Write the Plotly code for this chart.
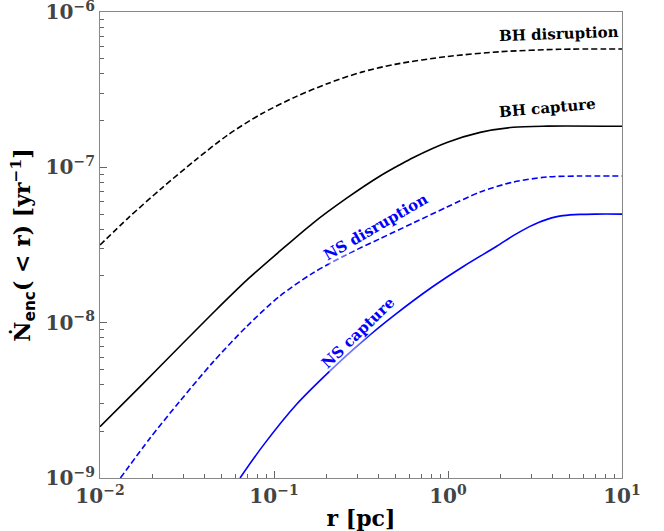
import math
import plotly.graph_objects as go

# BH disruption (black dashed)
r_bh_dis = [0.01, 0.01455, 0.0226, 0.0352, 0.0545, 0.0849, 0.132, 0.204, 0.319, 0.495, 0.986, 1.99, 4.4, 10.0]
n_bh_dis = [3.16e-8, 4.73e-8, 7.33e-8, 1.109e-7, 1.622e-7, 2.213e-7, 2.831e-7, 3.467e-7, 4.102e-7, 4.603e-7, 5.164e-7, 5.546e-7, 5.754e-7, 5.781e-7]

# BH capture (black solid)
r_bh_cap = [0.01, 0.0170, 0.0288, 0.0458, 0.0700, 0.108, 0.167, 0.263, 0.407, 0.530, 0.629, 0.986, 1.53, 2.37, 3.71, 10.0]
n_bh_cap = [2.138e-9, 3.873e-9, 7.047e-9, 1.189e-8, 1.884e-8, 2.884e-8, 4.365e-8, 6.353e-8, 8.79e-8, 1.04e-7, 1.153e-7, 1.445e-7, 1.679e-7, 1.811e-7, 1.841e-7, 1.837e-7]

# NS disruption (blue dashed)
r_ns_dis = [0.0131, 0.0194, 0.0288, 0.0446, 0.0700, 0.108, 0.167, 0.263, 0.407, 0.629, 0.986, 1.53, 2.37, 3.71, 5.74, 10.0]
n_ns_dis = [1.0e-9, 1.807e-9, 3.126e-9, 5.572e-9, 9.506e-9, 1.483e-8, 2.084e-8, 2.754e-8, 3.475e-8, 4.375e-8, 5.546e-8, 6.934e-8, 8.035e-8, 8.67e-8, 8.79e-8, 8.79e-8]

# NS capture (blue solid)
r_ns_cap = [0.0638, 0.0867, 0.1349, 0.2099, 0.3258, 0.507, 0.7889, 1.2246, 1.905, 2.371, 2.958, 3.311, 3.707, 4.169, 4.571, 5.741, 7.08, 10.0]
n_ns_cap = [1.0e-9, 1.622e-9, 2.985e-9, 4.898e-9, 7.674e-9, 1.148e-8, 1.66e-8, 2.301e-8, 3.105e-8, 3.631e-8, 4.169e-8, 4.416e-8, 4.624e-8, 4.797e-8, 4.887e-8, 4.977e-8, 5.0e-8, 5.0e-8]

x_tick_vals = [1e-2, 1e-1, 1e0, 1e1]
x_tick_text = ["10<sup>−2</sup>", "10<sup>−1</sup>", "10<sup>0</sup>", "10<sup>1</sup>"]
y_tick_vals = [1e-9, 1e-8, 1e-7, 1e-6]
y_tick_text = ["10<sup>−9</sup>", "10<sup>−8</sup>", "10<sup>−7</sup>", "10<sup>−6</sup>"]

labels = ["BH disruption", "BH capture", "NS disruption", "NS capture"]
label_x = [4.35, 3.71, 0.385, 0.304]
label_y = [7.21e-7, 2.41e-7, 4.13e-8, 8.57e-9]
label_angle = [-2, -5, -30, -44]
label_color = ["black", "black", "#0000ff", "#0000ff"]

serif = "DejaVu Serif"

fig = go.Figure()
fig.add_trace(go.Scatter(x=r_bh_dis, y=n_bh_dis, mode="lines", line=dict(color="black", width=1.6, dash="6px,3px", shape="spline", smoothing=0.8)))
fig.add_trace(go.Scatter(x=r_bh_cap, y=n_bh_cap, mode="lines", line=dict(color="black", width=1.6, shape="spline", smoothing=0.8)))
fig.add_trace(go.Scatter(x=r_ns_dis, y=n_ns_dis, mode="lines", line=dict(color="#0000ff", width=1.6, dash="6px,3px", shape="spline", smoothing=0.8)))
fig.add_trace(go.Scatter(x=r_ns_cap, y=n_ns_cap, mode="lines", line=dict(color="#0000ff", width=1.6, shape="spline", smoothing=0.8)))

for t, xx, yy, a, c in zip(labels, label_x, label_y, label_angle, label_color):
    fig.add_annotation(x=math.log10(xx), y=math.log10(yy), xref="x", yref="y", text="<b>" + t + "</b>", showarrow=False,
                       textangle=a, font=dict(family=serif, size=15, color=c),
                       bgcolor="rgba(255,255,255,0.45)", borderpad=0,
                       xanchor="center", yanchor="middle")

def minor_vals(lo, hi):
    out = []
    for e in range(lo, hi):
        for m in range(2, 10):
            out.append(m * 10.0 ** e)
    return out

bold = lambda lst: ["<b>" + s + "</b>" for s in lst]

fig.update_layout(
    width=664, height=531,
    margin=dict(l=100, r=42, t=12, b=53),
    paper_bgcolor="white", plot_bgcolor="white",
    showlegend=False,
    xaxis=dict(type="log", range=[-2, 1], tickmode="array", tickvals=x_tick_vals, ticktext=bold(x_tick_text),
               ticks="inside", ticklen=7, tickwidth=1, tickcolor="#666", ticklabeloverflow="allow", automargin=False,
               showline=True, linecolor="#888", linewidth=1.2, mirror=True, showgrid=False, zeroline=False,
               tickfont=dict(family=serif, size=20, color="#444"),
               minor=dict(tickmode="array", tickvals=minor_vals(-2, 1), ticks="inside", ticklen=4, tickcolor="#666", showgrid=False),
               title=dict(text="<b>r [pc]</b>", font=dict(family=serif, size=22, color="black"), standoff=4)),
    yaxis=dict(type="log", range=[-9, -6], tickmode="array", tickvals=y_tick_vals, ticktext=bold(y_tick_text),
               ticks="inside", ticklen=7, tickwidth=1, tickcolor="#666", ticklabeloverflow="allow", automargin=False,
               showline=True, linecolor="#888", linewidth=1.2, mirror=True, showgrid=False, zeroline=False,
               tickfont=dict(family=serif, size=20, color="#444"),
               minor=dict(tickmode="array", tickvals=minor_vals(-9, -6), ticks="inside", ticklen=4, tickcolor="#666", showgrid=False),
               title=dict(text="<b>Ṅ<sub><span style='font-family:DejaVu Sans'>enc</span></sub>( < r) [yr<sup>−1</sup>]</b>",
                          font=dict(family=serif, size=22, color="black"), standoff=8)),
)

fig.write_html("out.html", config={"displayModeBar": False}, post_script="document.body.style.margin='0px';")
